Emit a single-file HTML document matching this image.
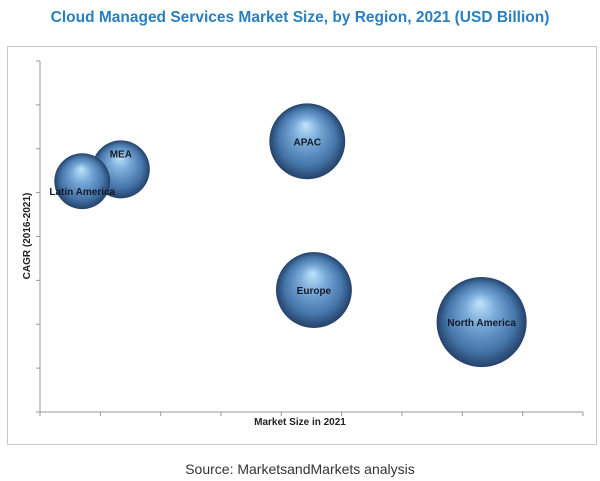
<!DOCTYPE html>
<html><head><meta charset="utf-8"><style>
body{margin:0;background:#fff;width:600px;height:481px;overflow:hidden}
svg{display:block;font-family:"Liberation Sans",sans-serif}
</style></head><body>
<svg id="c" width="600" height="481">
<defs>
<radialGradient id="g" cx="0.5" cy="0.5" r="0.5" fx="0.48" fy="0.28">
<stop offset="0" stop-color="#c0e4fb"/>
<stop offset="0.35" stop-color="#78a9d8"/>
<stop offset="0.75" stop-color="#4676aa"/>
<stop offset="1" stop-color="#24426a"/>
</radialGradient>
</defs>
<text x="300" y="22" text-anchor="middle" font-size="15.5" font-weight="bold" fill="#2a7fc0">Cloud Managed Services Market Size, by Region, 2021 (USD Billion)</text>
<rect x="7.5" y="46.5" width="589" height="398" fill="#fff" stroke="#c8c8c8"/>
<g id="axes"></g>
<g id="bubbles"></g>
<text x="300" y="425" text-anchor="middle" font-size="10" font-weight="bold" fill="#222">Market Size in 2021</text>
<text transform="translate(30,236) rotate(-90)" text-anchor="middle" font-size="10" font-weight="bold" fill="#222">CAGR (2016-2021)</text>
<text x="300" y="474" text-anchor="middle" font-size="14" fill="#333">Source: MarketsandMarkets analysis</text>
</svg>
<script>
const regions=["MEA","Latin America","APAC","Europe","North America"];
const marketSize=[1.34,0.70,4.43,4.54,7.32];
const cagr=[5.53,5.26,6.17,2.78,2.05];
const bubbleSize=[8.4,7.8,14.4,14.4,20.3];
const labelShift={"MEA":-16,"Latin America":10};
const xTickCount=9, yTickCount=8;
const NS="http://www.w3.org/2000/svg";
const X0=40,X1=583,Y0=412,Y1=61;
const xs=v=>X0+v*(X1-X0)/xTickCount;
const ys=v=>Y0-v*(Y0-Y1)/yTickCount;
const rs=s=>10*Math.sqrt(s);
function mk(t,a,p){const e=document.createElementNS(NS,t);for(const k in a)e.setAttribute(k,a[k]);p.appendChild(e);return e;}
const ax=document.getElementById('axes');
let l=mk('line',{x1:X0,y1:Y1,x2:X0,y2:Y0,stroke:'#999'},ax);


l=mk('line',{x1:X0,y1:Y0,x2:X1,y2:Y0,stroke:'#999'},ax);


for(let i=0;i<=yTickCount;i++){const t=mk('line',{x1:X0-4,x2:X0,y1:ys(i),y2:ys(i),stroke:'#999'},ax);

}
for(let i=0;i<=xTickCount;i++){const t=mk('line',{x1:xs(i),x2:xs(i),y1:Y0,y2:Y0+4,stroke:'#999'},ax);

}
const bg=document.getElementById('bubbles');
regions.forEach((r,i)=>{
const c=mk('circle',{cx:xs(marketSize[i]),cy:ys(cagr[i]),r:rs(bubbleSize[i]),fill:'url(#g)'},bg);


});
regions.forEach((r,i)=>{
const t=mk('text',{x:xs(marketSize[i]),y:ys(cagr[i])+(labelShift[r]||0)+4,'text-anchor':'middle','font-size':'10','font-weight':'bold',fill:'#141a2a'},bg);
t.textContent=r;


});
</script>
</body></html>
